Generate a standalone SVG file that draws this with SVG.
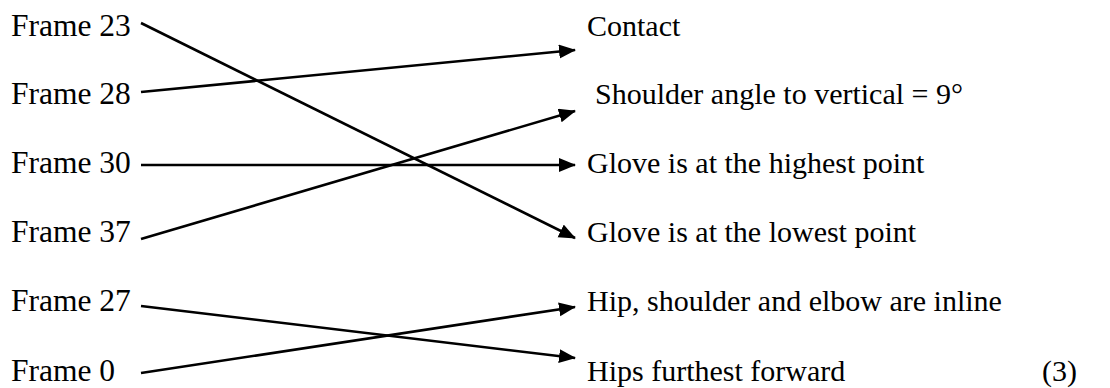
<svg xmlns="http://www.w3.org/2000/svg" width="1110" height="388" viewBox="0 0 1110 388">
  <style>
    text { font-family: "Liberation Serif", "Times New Roman", serif; font-size: 30px; fill: #000; }
    .left text { font-size: 31.5px; }
    .conn { stroke: #000; stroke-width: 2.6; fill: none; marker-end: url(#arrow); }
  </style>
  <defs>
    <marker id="arrow" markerUnits="userSpaceOnUse" markerWidth="18" markerHeight="15" refX="16" refY="7" orient="auto">
      <path d="M0,0 L17,7 L0,14 z" fill="#000"/>
    </marker>
  </defs>
  <rect width="1110" height="388" fill="#fff"/>
  <g id="left-nodes" class="left">
    <g id="frame23"><text x="11" y="36">Frame 23</text></g>
    <g id="frame28"><text x="11" y="104">Frame 28</text></g>
    <g id="frame30"><text x="11" y="173">Frame 30</text></g>
    <g id="frame37"><text x="11" y="242">Frame 37</text></g>
    <g id="frame27"><text x="11" y="311">Frame 27</text></g>
    <g id="frame0"><text x="11" y="381">Frame 0</text></g>
  </g>
  <g id="right-nodes">
    <g id="contact"><text x="587" y="36">Contact</text></g>
    <g id="shoulder"><text x="595" y="104">Shoulder angle to vertical = 9°</text></g>
    <g id="glove-high"><text x="587" y="173">Glove is at the highest point</text></g>
    <g id="glove-low"><text x="587" y="242">Glove is at the lowest point</text></g>
    <g id="inline"><text x="587" y="311">Hip, shoulder and elbow are inline</text></g>
    <g id="hips"><text x="587" y="381">Hips furthest forward</text></g>
  </g>
  <g id="marks"><text x="1042" y="381">(3)</text></g>
  <g id="connectors">
    <line class="conn" x1="141" y1="23" x2="575" y2="238"/>
    <line class="conn" x1="141" y1="92" x2="575" y2="50"/>
    <line class="conn" x1="141" y1="165" x2="575" y2="165"/>
    <line class="conn" x1="141" y1="239" x2="575" y2="111"/>
    <line class="conn" x1="141" y1="306" x2="575" y2="358"/>
    <line class="conn" x1="141" y1="373" x2="575" y2="307"/>
  </g>
</svg>
